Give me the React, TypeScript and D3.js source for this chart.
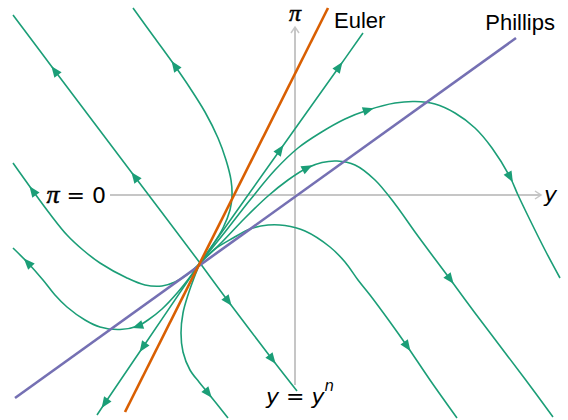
import React from 'react';
import * as d3 from 'd3';

const W = 568;
const H = 420;

// Output gap (horizontal) and inflation (vertical), both measured from the origin where the axes cross.
const xDomain: [number, number] = [-29.5, 27.3];
const yDomain: [number, number] = [19.5, -22.5];

// Axis extents
const gapAxis: [number, number] = [-18.5, 24.6];
const inflationAxis: [number, number] = [-19.0, 16.8];

// Nullclines (end points)
const eulerLine: [number, number][] = [[-17.0, -21.7], [3.3, 18.7]];
const phillipsLine: [number, number][] = [[-28.0, -20.3], [22.1, 15.7]];

// Trajectories leaving the equilibrium at (-9.5, -6.8); arrow indices mark flow direction
const fastUp: [number, number][] = [[-9.5, -6.8], [-16.0, 1.8], [-24.0, 12.4], [-28.2, 18.0]];
const fastUpArrows = [1, 2];
const fastDown: [number, number][] = [[-9.5, -6.8], [-6.7, -10.6], [-2.3, -16.4], [0.2, -19.6]];
const fastDownArrows = [1, 2];

const slowUp: [number, number][] = [[-9.5, -6.8], [-1.5, 4.5], [4.4, 12.8], [6.8, 16.2]];
const slowUpArrows = [1, 2];
const slowDown: [number, number][] = [[-9.5, -6.8], [-15.2, -15.2], [-19.0, -20.8], [-19.8, -22.0]];
const slowDownArrows = [1, 2];

const bendLeftUp: [number, number][] = [
  [-9.5, -6.8], [-8.3, -5.1], [-7.2, -3.3], [-6.5, -1.5], [-6.3, -0.1], [-6.4, 1.5], [-6.9, 3.5],
  [-7.7, 5.7], [-9.0, 8.3], [-10.5, 10.7], [-12.0, 12.9], [-14.1, 15.8], [-16.2, 18.7],
];
const bendLeftUpArrows = [10];

const bendRightDown: [number, number][] = [
  [-9.5, -6.8], [-10.1, -8.3], [-10.7, -10.0], [-11.2, -11.8], [-11.4, -13.8], [-11.2, -15.7],
  [-10.5, -17.5], [-9.6, -18.7], [-8.7, -19.8], [-6.7, -22.3],
];
const bendRightDownArrows = [8];

const humpHigh: [number, number][] = [
  [-9.5, -6.8], [-7.0, -3.7], [-4.5, -0.5], [-2.0, 2.5], [0.3, 4.7], [2.5, 6.2], [5.0, 7.6],
  [7.3, 8.5], [10.0, 9.2], [12.0, 9.35], [14.0, 9.1], [16.0, 8.2], [18.0, 6.7], [19.7, 4.7],
  [21.5, 1.8], [22.3, 0.0], [23.5, -2.5], [25.0, -5.5], [26.5, -8.3],
];
const humpHighArrows = [7, 14];

const humpMid: [number, number][] = [
  [-9.5, -6.8], [-7.3, -4.7], [-5.0, -2.3], [-2.7, -0.1], [-0.7, 1.5], [1.2, 2.7], [2.7, 3.25],
  [4.2, 3.4], [6.0, 3.0], [8.0, 1.5], [10.0, -0.9], [12.0, -3.7], [14.0, -6.4], [15.5, -8.4],
  [18.0, -11.8], [20.5, -15.1], [23.0, -18.4], [25.8, -22.2],
];
const humpMidArrows = [5, 13];

const humpLow: [number, number][] = [
  [-9.5, -6.8], [-8.0, -5.4], [-6.2, -4.3], [-4.5, -3.4], [-2.7, -3.0], [-1.0, -3.05], [1.0, -3.6],
  [3.5, -5.2], [5.0, -6.7], [6.3, -8.5], [7.5, -10.0], [9.5, -12.7], [11.2, -15.1], [13.5, -18.5],
  [16.2, -22.3],
];
const humpLowArrows = [12];

const dipHigh: [number, number][] = [
  [-9.5, -6.8], [-10.7, -7.9], [-12.0, -8.7], [-13.3, -9.1], [-15.0, -9.0], [-16.8, -8.3],
  [-19.5, -6.8], [-21.2, -5.5], [-22.8, -4.0], [-24.5, -1.9], [-26.2, 0.4], [-28.2, 3.2],
];
const dipHighArrows = [10];

const dipLow: [number, number][] = [
  [-9.5, -6.8], [-10.5, -8.2], [-11.7, -9.7], [-13.3, -11.4], [-14.7, -12.5], [-15.7, -13.1],
  [-17.5, -13.45], [-19.5, -13.2], [-21.0, -12.5], [-22.8, -11.2], [-24.0, -10.0], [-25.2, -8.5],
  [-26.7, -6.8], [-28.2, -5.3],
];
const dipLowArrows = [5, 12];

const trajectories: { pts: [number, number][]; arrows: number[] }[] = [
  { pts: fastUp, arrows: fastUpArrows },
  { pts: fastDown, arrows: fastDownArrows },
  { pts: slowUp, arrows: slowUpArrows },
  { pts: slowDown, arrows: slowDownArrows },
  { pts: bendLeftUp, arrows: bendLeftUpArrows },
  { pts: bendRightDown, arrows: bendRightDownArrows },
  { pts: humpHigh, arrows: humpHighArrows },
  { pts: humpMid, arrows: humpMidArrows },
  { pts: humpLow, arrows: humpLowArrows },
  { pts: dipHigh, arrows: dipHighArrows },
  { pts: dipLow, arrows: dipLowArrows },
];

const GREEN = '#1b9e77';
const ORANGE = '#d95f02';
const PURPLE = '#7570b3';
const AXIS = '#c6c6c6';

export default function App() {
  const x = d3.scaleLinear().domain(xDomain).range([0, W]);
  const y = d3.scaleLinear().domain(yDomain).range([0, H]);

  const curve = d3
    .line<[number, number]>()
    .x((d) => x(d[0]))
    .y((d) => y(d[1]))
    .curve(d3.curveCatmullRom.alpha(0.5));
  const straight = d3
    .line<[number, number]>()
    .x((d) => x(d[0]))
    .y((d) => y(d[1]));

  const arrowHead = (pts: [number, number][], i: number) => {
    const p = [x(pts[i][0]), y(pts[i][1])];
    const a = pts[Math.max(0, i - 1)];
    const b = pts[Math.min(pts.length - 1, i + 1)];
    let dx = x(b[0]) - x(a[0]);
    let dy = y(b[1]) - y(a[1]);
    const len = Math.hypot(dx, dy) || 1;
    dx /= len;
    dy /= len;
    const L = 6, B = 5, Hw = 4.5;
    const tip = [p[0] + dx * L, p[1] + dy * L];
    const bc = [p[0] - dx * B, p[1] - dy * B];
    const l = [bc[0] - dy * Hw, bc[1] + dx * Hw];
    const r = [bc[0] + dy * Hw, bc[1] - dx * Hw];
    return `M${tip[0]},${tip[1]}L${l[0]},${l[1]}L${r[0]},${r[1]}Z`;
  };

  const x0 = x(0);
  const y0 = y(0);
  const hx1 = x(gapAxis[1]);
  const vy1 = y(inflationAxis[1]);

  const piStyle = {
    fontFamily: 'Liberation Serif, serif',
    fontStyle: 'italic' as const,
    stroke: '#000',
    strokeWidth: 0.5,
  };

  return (
    <svg
      width={W}
      height={H}
      style={{ position: 'absolute', left: 0, top: 0, background: '#fff' }}
    >
      {/* axes */}
      <line x1={x(gapAxis[0])} y1={y0} x2={hx1} y2={y0} stroke={AXIS} strokeWidth={2} />
      <path d={`M${hx1 - 6},${y0 - 4}L${hx1},${y0}L${hx1 - 6},${y0 + 4}`} fill="none" stroke={AXIS} strokeWidth={1.5} />
      <line x1={x0} y1={y(inflationAxis[0])} x2={x0} y2={vy1} stroke={AXIS} strokeWidth={2} />
      <path d={`M${x0 - 4},${vy1 + 6}L${x0},${vy1}L${x0 + 4},${vy1 + 6}`} fill="none" stroke={AXIS} strokeWidth={1.5} />

      {/* trajectories */}
      {trajectories.map((t, k) => (
        <g key={k}>
          <path d={curve(t.pts) || ''} fill="none" stroke={GREEN} strokeWidth={1.6} />
          {t.arrows.map((i) => (
            <path key={i} d={arrowHead(t.pts, i)} fill={GREEN} />
          ))}
        </g>
      ))}

      {/* nullclines */}
      <path d={straight(phillipsLine) || ''} stroke={PURPLE} strokeWidth={2.6} fill="none" />
      <path d={straight(eulerLine) || ''} stroke={ORANGE} strokeWidth={2.6} fill="none" />

      {/* labels */}
      <text x={x(eulerLine[1][0]) + 6} y={28} fontFamily="Liberation Sans, Arial, sans-serif" fontSize={22} fill="#000">
        Euler
      </text>
      <text x={x(phillipsLine[1][0]) + 39} y={30} fontFamily="Liberation Sans, Arial, sans-serif" fontSize={22} fill="#000" textAnchor="end">
        Phillips
      </text>
      <text x={x0} y={vy1 - 6} textAnchor="middle" fontSize={24} {...piStyle}>
        π
      </text>
      <text x={x(gapAxis[0]) - 4} y={y0 + 8} textAnchor="end" fontFamily="DejaVu Sans, sans-serif" fontSize={22}>
        <tspan fontSize={26} {...piStyle}>π</tspan>
        <tspan> = 0</tspan>
      </text>
      <text x={hx1 + 3} y={y0 + 7} fontFamily="DejaVu Sans, sans-serif" fontStyle="italic" fontSize={22}>
        y
      </text>
      <text x={x0 + 5} y={y(inflationAxis[0]) + 19} textAnchor="middle" fontFamily="DejaVu Sans, sans-serif" fontSize={22}>
        <tspan fontStyle="italic">y</tspan>
        <tspan> = </tspan>
        <tspan fontStyle="italic">y</tspan>
        <tspan fontStyle="italic" fontSize={15} dy={-13}>n</tspan>
      </text>
    </svg>
  );
}
